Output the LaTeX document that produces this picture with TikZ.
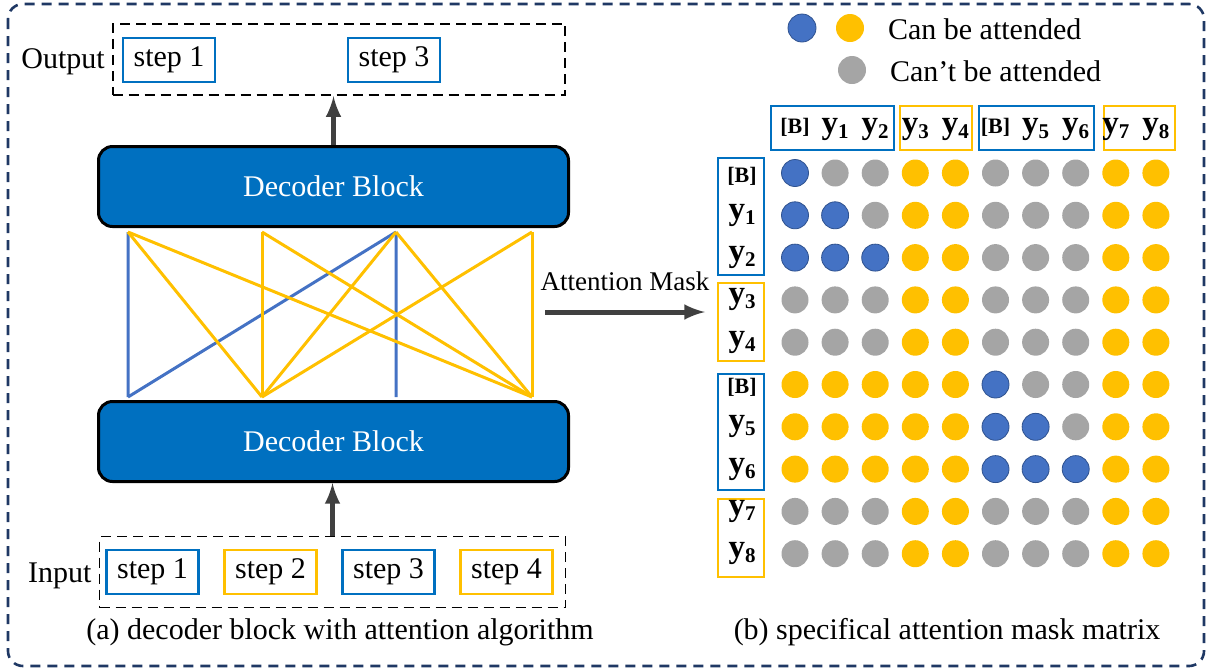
\documentclass[tikz,border=0pt]{standalone}
\usepackage{fontspec}
\setmainfont{Liberation Serif}
\usepackage{xcolor}
\usepackage{tikz}
\usetikzlibrary{shapes,arrows}
\definecolor{wordblue}{RGB}{0,112,192}
\definecolor{wordgold}{RGB}{255,192,0}
\definecolor{dotblue}{RGB}{68,114,196}
\definecolor{dotedge}{RGB}{47,82,143}
\definecolor{dotgray}{RGB}{165,165,165}
\definecolor{framenavy}{RGB}{31,56,100}
\definecolor{arrowgray}{RGB}{64,64,64}
\tikzstyle{decoder} = [rectangle, draw=black, line width=1.5pt, fill=wordblue, text=white, rounded corners=7pt, minimum width=235pt, minimum height=40pt]
\tikzstyle{stepblue} = [rectangle, draw=wordblue, line width=1.2pt, minimum width=46pt, minimum height=22pt, inner sep=0pt]
\tikzstyle{stepgold} = [stepblue, draw=wordgold]
\tikzstyle{group} = [rectangle, draw, line width=0.9pt, dash pattern=on 5pt off 3pt]
\tikzstyle{arrow} = [line width=2.5pt, arrowgray, ->, >=latex]
\tikzstyle{linkblue} = [dotblue, line width=1.5pt]
\tikzstyle{linkgold} = [wordgold, line width=1.5pt]
\tikzstyle{dotb} = [circle, fill=dotblue, draw=dotedge, line width=0.4pt, minimum size=13.5pt, inner sep=0pt]
\tikzstyle{doty} = [circle, fill=wordgold, minimum size=13.5pt, inner sep=0pt]
\tikzstyle{dotg} = [circle, fill=dotgray, minimum size=13.5pt, inner sep=0pt]
\tikzstyle{tag} = [font=\fontsize{16.5}{16}\selectfont\bfseries, anchor=base, inner sep=0pt]
\newcommand{\ylab}[1]{y\raisebox{-2.5pt}{\fontsize{10.5}{10.5}\selectfont #1}}
\newcommand{\blab}{{\fontsize{11}{11}\selectfont [B]}}

\begin{document}
\begin{tikzpicture}[x=0.5pt, y=-0.5pt, node distance=59pt, font=\fontsize{15}{18}\selectfont]
    \useasboundingbox (0,0) rectangle (1208,671);
    \draw[framenavy, line width=1.3pt, dash pattern=on 5pt off 3.5pt, rounded corners=7.5pt] (8,4) rectangle (1204,666);

    \node[group, minimum width=226.3pt, minimum height=35.8pt] (outbox) at (339,59.5) {};
    \node[left] (outlabel) at ([yshift=-1pt]outbox.west) {Output};
    \node[stepblue] (outstep1) at (169,60) {step 1};
    \node[stepblue, right of=outstep1, node distance=112.5pt] (outstep3) {step 3};

    \node[decoder] (dectop) at (333.5,186.5) {Decoder Block};
    \node[decoder, below of=dectop, node distance=127.5pt] (decbot) {Decoder Block};

    \node[group, minimum width=233pt, minimum height=35.5pt] (inbox) at (332.5,572) {};
    \node[left] (inlabel) at ([yshift=-2pt]inbox.west) {Input};
    \node[stepblue] (instep1) at (152.5,572) {step 1};
    \node[stepgold, right of=instep1] (instep2) {step 2};
    \node[stepblue, right of=instep2] (instep3) {step 3};
    \node[stepgold, right of=instep3] (instep4) {step 4};

    \draw[arrow] (inbox.north) -- (inbox.north |- decbot.south);
    \draw[arrow] (dectop.north) -- (dectop.north |- outbox.south);

    \foreach \x [count=\k] in {128,262,396,532} {
        \coordinate (t\k) at (\x,232);
        \coordinate (b\k) at (\x,397);
    }
    \draw[linkblue] (t1) -- (b1) (t3) -- (b1) (t3) -- (b3);
    \foreach \a/\b in {1/2,1/4,2/2,2/4,3/2,3/4,4/2,4/4}
        \draw[linkgold] (t\a) -- (b\b);

    \node (amlabel) at (625,281) {\fontsize{13.5}{16}\selectfont Attention Mask};
    \coordinate (am0) at (545,312);
    \coordinate (am1) at (705,312);
    \draw[arrow] (am0) -- (am1);

    \node[dotb, minimum size=14pt] (legb) at (802,28) {};
    \node[doty, minimum size=14pt] (legy) at (850,28) {};
    \node[dotg, minimum size=14pt] (legg) at (852,70) {};
    \node[right] (legyes) at (881,29) {Can be attended};
    \node[right] (legno) at (883,71) {Can't be attended};

    \node[stepblue, minimum width=61.3pt] (colbox1) at (832.5,128) {};
    \node[stepgold, minimum width=35.8pt] (colbox2) at (936,128) {};
    \node[stepblue, minimum width=57.3pt] (colbox3) at (1036.5,128) {};
    \node[stepgold, minimum width=35.3pt] (colbox4) at (1139.5,128) {};
    \node[stepblue, minimum width=22.8pt, minimum height=58.3pt] (rowbox1) at (741,216.5) {};
    \node[stepgold, minimum width=22.8pt, minimum height=38.8pt] (rowbox2) at (741,322) {};
    \node[stepblue, minimum width=22.8pt, minimum height=57.8pt] (rowbox3) at (741,432) {};
    \node[stepgold, minimum width=22.8pt, minimum height=38.8pt] (rowbox4) at (741,538) {};

    \foreach \t [count=\j from 0] in {\blab,\ylab{1},\ylab{2},\ylab{3},\ylab{4},\blab,\ylab{5},\ylab{6},\ylab{7},\ylab{8}}
        \node[tag] (col\j) at (795+40.1*\j,133) {\t};
    \foreach \dy/\t [count=\i from 0] in {9/\blab,4/\ylab{1},4/\ylab{2},4/\ylab{3},4/\ylab{4},9/\blab,4/\ylab{5},4/\ylab{6},4/\ylab{7},4/\ylab{8}}
        \node[tag] (row\i) at (742,173+42.3*\i+\dy) {\t};

    \foreach \row [count=\i from 0] in {{b,g,g,y,y,g,g,g,y,y},{b,b,g,y,y,g,g,g,y,y},{b,b,b,y,y,g,g,g,y,y},{g,g,g,y,y,g,g,g,y,y},{g,g,g,y,y,g,g,g,y,y},{y,y,y,y,y,b,g,g,y,y},{y,y,y,y,y,b,b,g,y,y},{y,y,y,y,y,b,b,b,y,y},{g,g,g,y,y,g,g,g,y,y},{g,g,g,y,y,g,g,g,y,y}}
        \foreach \c [count=\j from 0] in \row
            \node[dot\c] (m-\i-\j) at (795+40.1*\j,173+42.3*\i) {};

    \node (capa) at (340,632) {(a) decoder block with attention algorithm};
    \node (capb) at (947,632) {(b) specifical attention mask matrix};
\end{tikzpicture}
\end{document}
